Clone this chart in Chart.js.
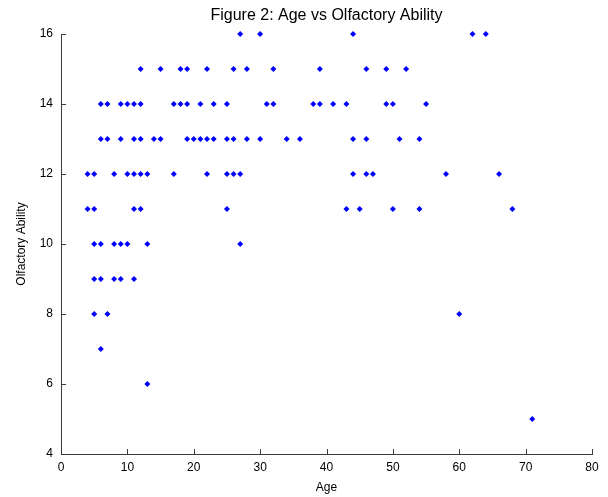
<!DOCTYPE html>
<html>
<head>
<meta charset="utf-8">
<script src="https://cdn.jsdelivr.net/npm/chart.js@4/dist/chart.umd.min.js"></script>
<style>
  html, body { margin: 0; padding: 0; background: #fff; }
  #wrap { width: 608px; height: 497px; }
</style>
</head>
<body>
<div id="wrap"><canvas id="chart" width="608" height="497"></canvas></div>
<script>
// age of each subject and the olfactory score
const ages = [
  27, 30, 44, 62, 64,
  12, 15, 18, 19, 22, 26, 28, 32, 39, 46, 49, 52,
  6, 7, 9, 10, 11, 12, 17, 18, 19, 21, 23, 25, 31, 32, 38, 39, 41, 43, 49, 50, 55,
  6, 7, 9, 11, 12, 14, 15, 19, 20, 21, 22, 23, 25, 26, 28, 30, 34, 36, 44, 46, 51, 54,
  4, 5, 8, 10, 11, 12, 13, 17, 22, 25, 26, 27, 44, 46, 47, 58, 66,
  4, 5, 11, 12, 25, 43, 45, 50, 54, 68,
  5, 6, 8, 9, 10, 13, 27,
  5, 6, 8, 9, 11,
  5, 7, 60,
  6,
  13,
  71
]
const ability = [
  16, 16, 16, 16, 16,
  15, 15, 15, 15, 15, 15, 15, 15, 15, 15, 15, 15,
  14, 14, 14, 14, 14, 14, 14, 14, 14, 14, 14, 14, 14, 14, 14, 14, 14, 14, 14, 14, 14,
  13, 13, 13, 13, 13, 13, 13, 13, 13, 13, 13, 13, 13, 13, 13, 13, 13, 13, 13, 13, 13, 13,
  12, 12, 12, 12, 12, 12, 12, 12, 12, 12, 12, 12, 12, 12, 12, 12, 12,
  11, 11, 11, 11, 11, 11, 11, 11, 11, 11,
  10, 10, 10, 10, 10, 10, 10,
  9, 9, 9, 9, 9,
  8, 8, 8,
  7,
  6,
  5
]

const title = "Figure 2: Age vs Olfactory Ability"
const xTitle = "Age"
const yTitle = "Olfactory Ability"

const axisColor = "#3c3c3c"
const font = { family: "'Liberation Sans', Arial, sans-serif", size: 12 }

let points = ages.map(function (a, i) {
  return { x: a, y: ability[i] }
})

// matlab style ticks pointing into the plot
const inwardTicks = {
  id: "inwardTicks",
  afterDraw(chart) {
    const ctx = chart.ctx
    const { x, y } = chart.scales
    const area = chart.chartArea
    ctx.save()
    ctx.strokeStyle = axisColor
    ctx.lineWidth = 1
    ctx.beginPath()
    x.ticks.forEach(function (t) {
      let px = Math.round(x.getPixelForValue(t.value)) + 0.5
      ctx.moveTo(px, area.bottom)
      ctx.lineTo(px, area.bottom - 5)
    })
    y.ticks.forEach(function (t) {
      let py = Math.round(y.getPixelForValue(t.value)) + 0.5
      ctx.moveTo(area.left, py)
      ctx.lineTo(area.left + 5, py)
    })
    ctx.stroke()
    ctx.restore()
  },
}

new Chart(document.getElementById("chart"), {
  type: "scatter",
  data: {
    datasets: [
      {
        data: points,
        pointStyle: "rectRot",
        radius: 3,
        borderWidth: 0,
        clip: false,
        backgroundColor: "#0000ff",
        pointBackgroundColor: "#0000ff",
      },
    ],
  },
  options: {
    responsive: false,
    animation: false,
    layout: {
      padding: { left: 0, right: 16, top: 0, bottom: 0 },
    },
    plugins: {
      legend: { display: false },
      tooltip: { enabled: false },
      title: {
        display: true,
        text: title,
        fullSize: false,
        color: "#000",
        font: { family: font.family, size: 16, weight: "normal" },
        padding: { top: 6.4, bottom: 8.4 },
      },
    },
    scales: {
      x: {
        type: "linear",
        min: 0,
        max: 80,
        afterFit: function (scale) {
          scale.height = 43
        },
        grid: { drawOnChartArea: false, drawTicks: false },
        border: { display: true, color: axisColor, width: 1 },
        ticks: {
          stepSize: 10,
          padding: 6,
          color: "#000",
          font: font,
          maxRotation: 0,
        },
        title: {
          display: true,
          text: xTitle,
          color: "#000",
          font: font,
          padding: { top: 0, bottom: 2 },
        },
      },
      y: {
        type: "linear",
        min: 4,
        max: 16,
        afterFit: function (scale) {
          scale.width = 61
        },
        grid: { drawOnChartArea: false, drawTicks: false },
        border: { display: true, color: axisColor, width: 1 },
        ticks: {
          stepSize: 2,
          padding: 8,
          color: "#000",
          font: font,
        },
        title: {
          display: true,
          text: yTitle,
          color: "#000",
          font: font,
          padding: { top: 14, bottom: 0 },
        },
      },
    },
  },
  plugins: [inwardTicks],
})
</script>
</body>
</html>
